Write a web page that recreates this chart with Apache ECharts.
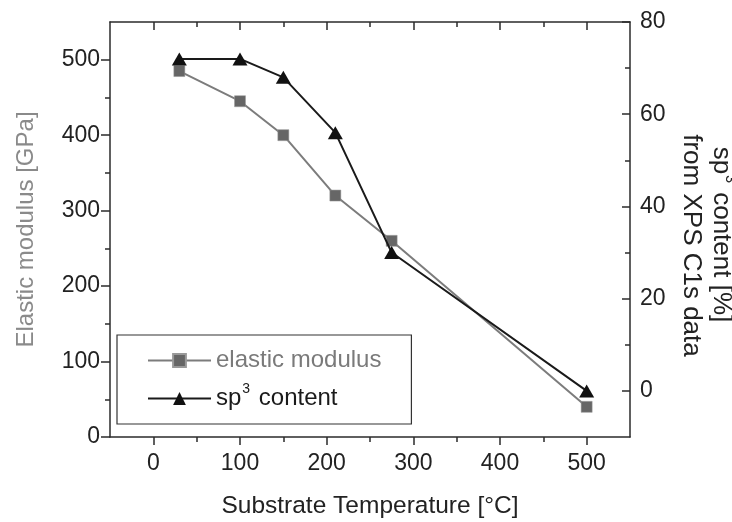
<!DOCTYPE html>
<html>
<head>
<meta charset="utf-8">
<script src="https://cdn.jsdelivr.net/npm/echarts@6/dist/echarts.min.js"></script>
<style>
  html, body { margin: 0; padding: 0; background: #fff; }
  #chart { width: 732px; height: 522px; }
</style>
</head>
<body>
<div id="chart"></div>
<script>
// data
var temperature = [30, 100, 150, 210, 275, 500];
var elasticModulus = [485, 445, 400, 320, 260, 40];
var sp3Content = [72, 72, 68, 56, 30, 0];

// tick positions
var xMajor = [0, 100, 200, 300, 400, 500];
var xMinor = [50, 150, 250, 350, 450];
var leftMajor = [0, 100, 200, 300, 400, 500];
var leftMinor = [50, 150, 250, 350, 450];
var rightMajor = [0, 20, 40, 60, 80];
var rightMinor = [10, 30, 50, 70];

var font = '"Liberation Sans", Arial, sans-serif';
var axisColor = '#2b2b2b';

function pairs(xs, ys) {
  return xs.map(function (x, i) { return [x, ys[i]]; });
}

function xAxisOf(pos, ticks, len, inside, showLine, withLabels) {
  return {
    type: 'value', position: pos, min: -50, max: 550,
    splitLine: { show: false },
    axisLine: { show: showLine, onZero: false, lineStyle: { color: axisColor, width: 1.5 } },
    axisTick: { show: true, inside: inside, length: len, customValues: ticks, lineStyle: { color: axisColor, width: 1.5 } },
    axisLabel: withLabels ? {
      customValues: ticks, margin: 15, color: '#222', fontSize: 23, fontFamily: font
    } : { show: false }
  };
}

function yAxisOf(pos, min, max, ticks, len, inside, showLine, withLabels) {
  return {
    type: 'value', position: pos, min: min, max: max,
    splitLine: { show: false },
    axisLine: { show: showLine, onZero: false, lineStyle: { color: axisColor, width: 1.5 } },
    axisTick: { show: true, inside: inside, length: len, customValues: ticks, lineStyle: { color: axisColor, width: 1.5 } },
    axisLabel: withLabels ? {
      customValues: ticks, margin: 10, color: '#222', fontSize: 23, fontFamily: font
    } : { show: false }
  };
}

var chart = echarts.init(document.getElementById('chart'));

var xBottom = xAxisOf('bottom', xMajor, 8, false, true, true);
xBottom.name = 'Substrate Temperature [\u00b0C]';
xBottom.nameLocation = 'middle';
xBottom.nameGap = 57;
xBottom.nameTextStyle = { color: '#222', fontSize: 24.5, fontFamily: font };

var yLeft = yAxisOf('left', 0, 550, leftMajor, 9, false, true, true);
yLeft.name = 'Elastic modulus [GPa]';
yLeft.nameLocation = 'middle';
yLeft.nameGap = 72;
yLeft.nameTextStyle = { color: '#8a8a8a', fontSize: 24, fontFamily: font };

var yRight = yAxisOf('right', -10, 80, rightMajor, 8, true, true, true);
yRight.name = '{a|sp}{s|3}{a| content [%]}{p| }\n{a|from XPS C1s data}';
yRight.nameLocation = 'middle';
yRight.nameRotate = -90;
yRight.nameGap = 36;
yRight.nameTextStyle = {
  color: '#222', fontSize: 26, fontFamily: font, lineHeight: 30,
  padding: [0, 0, 0, 32],
  rich: {
    a: { fontSize: 26, fontFamily: font, color: '#222', lineHeight: 30 },
    s: { fontSize: 14, fontFamily: font, color: '#222', lineHeight: 12, verticalAlign: 'top', padding: [0, 2, 0, 1] },
    p: { fontSize: 26, fontFamily: font, lineHeight: 30, width: 22 }
  }
};

var option = {
  animation: false,
  backgroundColor: '#fff',
  grid: { left: 110, right: 102, top: 22, bottom: 85, outerBoundsMode: 'none', containLabel: false },
  legend: {
    orient: 'vertical',
    left: 117, top: 335,
    padding: [9, 30, 9, 30],
    itemGap: 5,
    itemWidth: 63, itemHeight: 16,
    borderColor: '#333', borderWidth: 1.2, borderRadius: 0,
    textStyle: {
      fontSize: 24, fontFamily: font, lineHeight: 33,
      rich: {
        n: { fontSize: 24, fontFamily: font, color: '#1a1a1a', lineHeight: 33 },
        s: { fontSize: 14, fontFamily: font, color: '#1a1a1a', lineHeight: 12, verticalAlign: 'top', padding: [0, 2, 0, 1] }
      }
    },
    formatter: function (name) {
      if (name === 'sp3 content') return '{n|sp}{s|3}{n| content}';
      return name;
    },
    data: [
      { name: 'elastic modulus', textStyle: { color: '#7a7a7a' } },
      { name: 'sp3 content' }
    ]
  },
  xAxis: [
    xBottom,
    xAxisOf('bottom', xMinor, 5, false, false, false),
    xAxisOf('top', xMajor, 8, true, true, false),
    xAxisOf('top', xMinor, 5, true, false, false)
  ],
  yAxis: [
    yLeft,
    yAxisOf('left', 0, 550, leftMinor, 5, false, false, false),
    yRight,
    yAxisOf('right', -10, 80, rightMinor, 5, true, false, false)
  ],
  series: [
    {
      name: 'elastic modulus',
      type: 'line',
      xAxisIndex: 0, yAxisIndex: 0,
      data: pairs(temperature, elasticModulus),
      symbol: 'rect', symbolSize: 11,
      lineStyle: { color: '#7c7c7c', width: 2 },
      itemStyle: { color: '#666', borderColor: '#999', borderWidth: 0.5 },
      z: 3
    },
    {
      name: 'sp3 content',
      type: 'line',
      xAxisIndex: 0, yAxisIndex: 2,
      data: pairs(temperature, sp3Content),
      symbol: 'triangle', symbolSize: [15, 13],
      lineStyle: { color: '#1a1a1a', width: 2 },
      itemStyle: { color: '#111' },
      z: 4
    }
  ]
};

chart.setOption(option);
</script>
</body>
</html>
